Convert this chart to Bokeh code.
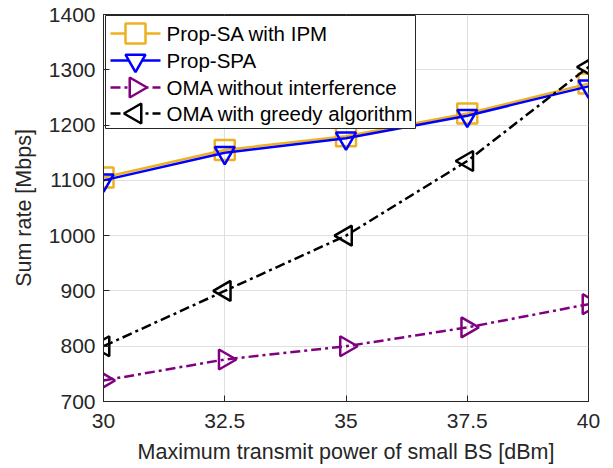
from bokeh.plotting import figure
from bokeh.embed import file_html
from bokeh.resources import INLINE
from bokeh.models import FixedTicker, Range1d
from bokeh.core.properties import value

x = [30, 32.5, 35, 37.5, 40]
prop_sa = [1105, 1155, 1180, 1221, 1275]
prop_spa = [1100, 1150, 1176, 1217, 1270]
oma_noint = [738, 776, 800, 834, 876]
oma_greedy = [800, 900, 1000, 1135, 1305]
xticks = [30, 32.5, 35, 37.5, 40]
yticks = [700, 800, 900, 1000, 1100, 1200, 1300, 1400]
labels = ["Prop-SA with IPM", "Prop-SPA", "OMA without interference", "OMA with greedy algorithm"]

FONT = "Liberation Sans"
FW, FH = 485, 387
p = figure(width=600, height=468, output_backend="svg", toolbar_location=None,
           x_range=Range1d(30, 40), y_range=Range1d(700, 1400),
           min_border_left=103, min_border_right=12, min_border_top=14, min_border_bottom=67)
p.extra_x_ranges = {"px": Range1d(0, FW)}
p.extra_y_ranges = {"px": Range1d(FH, 0)}
p.outline_line_color = "#262626"
p.outline_line_width = 1
for ax in (p.xaxis[0], p.yaxis[0]):
    ax.major_label_text_font = FONT
    ax.major_label_text_font_size = "21px"
    ax.major_label_text_color = "#262626"
    ax.axis_label_text_font = FONT
    ax.axis_label_text_font_size = "21.5px"
    ax.axis_label_text_font_style = "normal"
    ax.axis_label_text_color = "#262626"
    ax.major_tick_in = 6
    ax.major_tick_out = 0
    ax.minor_tick_in = 0
    ax.minor_tick_out = 0
    ax.axis_line_color = "#262626"
    ax.major_tick_line_color = "#262626"
p.xaxis.ticker = FixedTicker(ticks=xticks)
p.yaxis.ticker = FixedTicker(ticks=yticks)
p.xaxis.major_label_overrides = {30: "30", 32.5: "32.5", 35: "35", 37.5: "37.5", 40: "40"}
p.xaxis.axis_label = "Maximum transmit power of small BS [dBm]"
p.yaxis.axis_label = "Sum rate [Mbps]"
p.xaxis.major_label_standoff = 12
p.yaxis.major_label_standoff = 8
p.xaxis.axis_label_standoff = 9
p.yaxis.axis_label_standoff = 10
p.grid.grid_line_color = "#dfdfdf"
p.grid.grid_line_width = 1

ms = 20
orange = "#EDB120"
purple = "#800080"
dd = "10 4 3 4"
styles = [
    (prop_sa, orange, "solid", "square", 0.0),
    (prop_spa, "blue", "solid", "inverted_triangle", 0.0),
    (oma_noint, purple, dd, "triangle", -1.5708),
    (oma_greedy, "black", dd, "triangle", 1.5708),
]
for ys, c, dash, mk, ang in styles:
    p.line(x, ys, line_color=c, line_width=2.5, line_dash=dash)
    p.scatter(x, ys, marker=mk, angle=ang, size=ms, fill_color=None, line_color=c, line_width=2.5)

# custom legend (in frame pixel coordinates)
p.quad(left=2, right=312, top=1, bottom=114, fill_color="white", line_color="#262626",
       line_width=1, x_range_name="px", y_range_name="px")
row_y = [19, 46, 73, 99]
for (ys, c, dash, mk, ang), ry, lab in zip(styles, row_y, labels):
    p.segment(x0=[7], y0=[ry], x1=[57], y1=[ry], line_color=c, line_width=2.5, line_dash=dash,
              x_range_name="px", y_range_name="px")
    p.scatter([32], [ry], marker=mk, angle=ang, size=ms, fill_color="white", line_color=c,
              line_width=2.5, x_range_name="px", y_range_name="px")
    p.text([63], [ry], text=[lab], text_font=value(FONT), text_font_size="20.5px",
           text_baseline="middle", text_align="left", text_color="black",
           x_range_name="px", y_range_name="px")

open("out.html", "w").write(file_html(p, INLINE))
